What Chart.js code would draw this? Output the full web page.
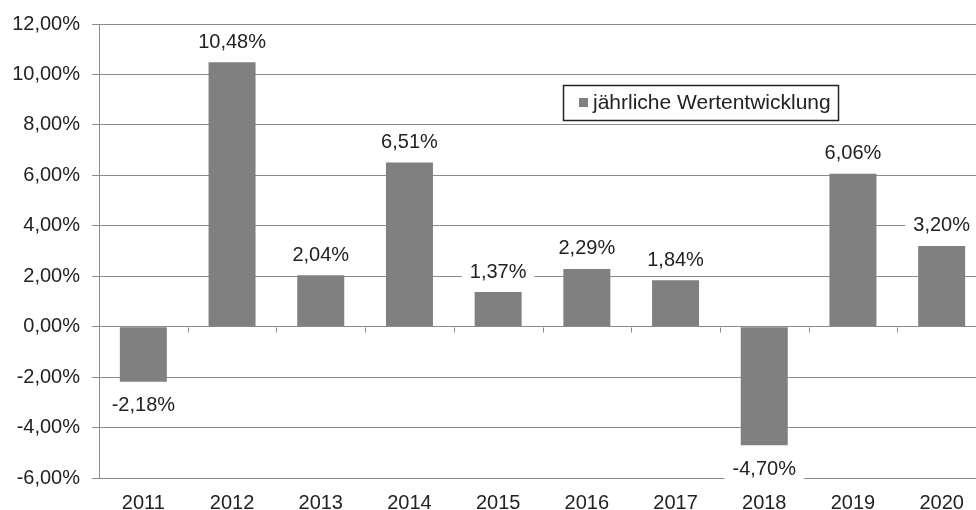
<!DOCTYPE html>
<html>
<head>
<meta charset="utf-8">
<script src="https://cdn.jsdelivr.net/npm/chart.js@4.4.1/dist/chart.umd.min.js"></script>
<style>
    html, body { margin: 0; padding: 0; background: #fff; overflow: hidden; }
    #wrap { width: 990px; height: 510px; }
</style>
</head>
<body>
<div id="wrap"><canvas id="chart" width="990" height="510"></canvas></div>
<script>
const years = ['2011', '2012', '2013', '2014', '2015', '2016', '2017', '2018', '2019', '2020'];
const performance = [-2.18, 10.48, 2.04, 6.51, 1.37, 2.29, 1.84, -4.70, 6.06, 3.20];
const seriesName = 'jährliche Wertentwicklung';

const barColor = '#808080',
    gridColor = '#8c8c8c',
    textColor = '#222',
    fontFamily = '"Liberation Sans", Arial, sans-serif';

function pct(v) {
    return v.toFixed(2).replace('.', ',') + '%';
}

// little tick marks hanging off the zero line, between the categories
const zeroTicks = {
    id: 'zeroTicks',
    beforeDatasetsDraw(chart) {
        const ctx = chart.ctx, x = chart.scales.x, y = chart.scales.y;
        const y0 = Math.round(y.getPixelForValue(0)) + 0.5;
        const half = (x.getPixelForValue(1) - x.getPixelForValue(0)) / 2;
        ctx.save();
        ctx.strokeStyle = gridColor;
        ctx.lineWidth = 1;
        ctx.beginPath();
        for (let i = 0; i <= years.length; i++) {
            const px = Math.round(x.getPixelForValue(i) - half) + 0.5;
            ctx.moveTo(px, y0);
            ctx.lineTo(px, y0 + 5);
        }
        ctx.stroke();
        ctx.restore();
    }
};

// value labels on a white box
const valueLabels = {
    id: 'valueLabels',
    afterDatasetsDraw(chart) {
        const ctx = chart.ctx;
        const bars = chart.getDatasetMeta(0).data;
        ctx.save();
        ctx.font = '20px ' + fontFamily;
        ctx.textAlign = 'center';
        ctx.textBaseline = 'middle';
        bars.forEach(function (bar, i) {
            const v = performance[i];
            const txt = pct(v);
            const cy = v >= 0 ? bar.y - 21 : bar.y + 23;
            const w = ctx.measureText(txt).width + 16;
            ctx.fillStyle = '#fff';
            ctx.fillRect(bar.x - w / 2, cy - 12, w, 24);
            ctx.fillStyle = textColor;
            ctx.fillText(txt, bar.x, cy + 1);
        });
        ctx.restore();
    }
};

// boxed legend inside the plot
const boxLegend = {
    id: 'boxLegend',
    afterDraw(chart) {
        const ctx = chart.ctx;
        ctx.save();
        ctx.fillStyle = '#fff';
        ctx.fillRect(563, 85, 275, 35);
        ctx.strokeStyle = textColor;
        ctx.lineWidth = 1.5;
        ctx.strokeRect(563.5, 85.5, 275, 35);
        ctx.fillStyle = barColor;
        ctx.fillRect(579, 98, 9, 9);
        ctx.fillStyle = textColor;
        ctx.font = '21px ' + fontFamily;
        ctx.textBaseline = 'middle';
        ctx.fillText(seriesName, 593, 103);
        ctx.restore();
    }
};

new Chart(document.getElementById('chart'), {
    type: 'bar',
    data: {
        labels: years,
        datasets: [{
            label: seriesName,
            data: performance,
            backgroundColor: barColor,
            barPercentage: 0.53,
            categoryPercentage: 1
        }]
    },
    options: {
        responsive: false,
        animation: false,
        layout: {
            padding: { top: 22, right: 4, left: 0, bottom: 0 }
        },
        plugins: {
            legend: { display: false },
            tooltip: { enabled: false }
        },
        scales: {
            x: {
                grid: { display: false },
                border: { display: false },
                ticks: {
                    color: textColor,
                    font: { family: fontFamily, size: 20 },
                    padding: 5,
                    maxRotation: 0
                },
                afterFit(scale) { scale.height = 32; }
            },
            y: {
                min: -6,
                max: 12,
                grid: {
                    color: gridColor,
                    lineWidth: 1,
                    tickLength: 7
                },
                border: { color: gridColor, width: 1 },
                ticks: {
                    stepSize: 2,
                    color: textColor,
                    font: { family: fontFamily, size: 20 },
                    padding: 12,
                    callback: function (v) { return pct(v); }
                },
                afterFit(scale) { scale.width = 99; }
            }
        }
    },
    plugins: [zeroTicks, valueLabels, boxLegend]
});
</script>
</body>
</html>
